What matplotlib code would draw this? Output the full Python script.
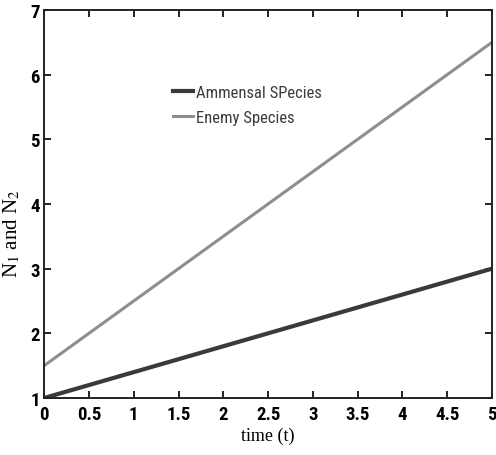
import matplotlib
matplotlib.use("Agg")
import matplotlib.pyplot as plt

plt.rcParams["mathtext.fontset"] = "stix"

# values
time_t = [0, 1, 2, 3, 4, 5]
ammensal = [1.0, 1.4, 1.8, 2.2, 2.6, 3.0]
enemy = [1.5, 2.5, 3.5, 4.5, 5.5, 6.5]
xticks = [0, 0.5, 1, 1.5, 2, 2.5, 3, 3.5, 4, 4.5, 5]
xtick_labels = ["0", "0.5", "1", "1.5", "2", "2.5", "3", "3.5", "4", "4.5", "5"]
yticks = [1, 2, 3, 4, 5, 6, 7]

cond = ["Roboto Condensed", "DejaVu Sans"]
serif = ["Liberation Serif", "DejaVu Serif"]

fig = plt.figure(figsize=(4.96, 4.56), dpi=100)
ax = fig.add_axes([0.089, 0.125, 0.903, 0.851])

ax.plot(time_t, ammensal, color="#3a3a3a", lw=3.0, label="Ammensal SPecies")
ax.plot(time_t, enemy, color="#8e8e8e", lw=2.2, label="Enemy Species")

ax.set_xlim(0, 5)
ax.set_ylim(1, 7)
ax.set_xticks(xticks)
ax.set_xticklabels(xtick_labels, family=cond, fontweight="bold", fontsize=13.5)
ax.set_yticks(yticks)
ax.set_yticklabels([str(v) for v in yticks], family=cond, fontweight="bold", fontsize=13.5)
ax.tick_params(direction="in", top=True, right=True, length=5, width=1.2, pad=3)
ax.tick_params(axis="x", pad=5)
for s in ax.spines.values():
    s.set_linewidth(1.4)
    s.set_color("#222222")

ax.set_xlabel("time (t)", family=serif, fontsize=13, labelpad=3)
ax.set_ylabel("N$_1$ and N$_2$", family=serif, fontsize=15)
ax.yaxis.set_label_coords(-0.048, 0.425)

leg = ax.legend(loc="upper left", bbox_to_anchor=(0.255, 0.845), frameon=False,
                handlelength=1.2, handletextpad=0.15, labelspacing=0.6,
                prop={"family": cond, "size": 12})
for t in leg.get_texts():
    t.set_color("#3c3c3c")

fig.savefig("out.png", dpi=100)
